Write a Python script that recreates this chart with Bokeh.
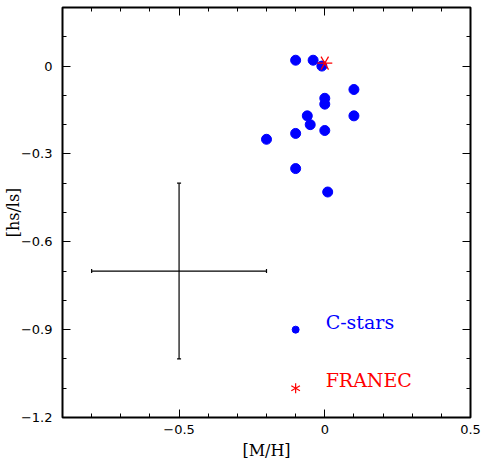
import math
from bokeh.plotting import figure
from bokeh.models import FixedTicker, LinearAxis, CustomJSTickFormatter, Range1d
from bokeh.embed import file_html
from bokeh.resources import INLINE
from bokeh.core.properties import value

# ---- data ----
cstars_mh = [-0.10, -0.04, -0.01, 0.10, 0.00, 0.00, 0.10, -0.06, -0.05, 0.00, -0.10, -0.20, -0.10, 0.01]
cstars_hsls = [0.02, 0.02, 0.00, -0.08, -0.11, -0.13, -0.17, -0.17, -0.20, -0.22, -0.23, -0.25, -0.35, -0.43]

franec_mh = [0.00]
franec_hsls = [0.01]

err_x = [-0.5]
err_y = [-0.7]
err_dx = [0.3]
err_dy = [0.3]

legend_labels = ["C-stars", "FRANEC"]
legend_x = [-0.1, -0.1]
legend_y = [-0.9, -1.1]

x_major = [-0.5, 0.0, 0.5]
x_minor = [-0.9, -0.8, -0.7, -0.6, -0.5, -0.4, -0.3, -0.2, -0.1, 0.0, 0.1, 0.2, 0.3, 0.4, 0.5]
y_major = [-1.2, -0.9, -0.6, -0.3, 0.0]
y_minor = [-1.2, -1.1, -1.0, -0.9, -0.8, -0.7, -0.6, -0.5, -0.4, -0.3, -0.2, -0.1, 0.0, 0.1, 0.2]

x_lim = (-0.9, 0.5)
y_lim = (-1.2, 0.2)

BLUE = "#0000ff"
RED = "#ff0000"

p = figure(
    frame_width=408, frame_height=410,
    x_range=Range1d(*x_lim), y_range=Range1d(*y_lim),
    output_backend="svg", toolbar_location=None,
    min_border_left=55, min_border_right=12, min_border_top=7, min_border_bottom=44,
    x_axis_label="[M/H]", y_axis_label="[hs/ls]",
)
p.grid.visible = False
p.outline_line_color = "black"
p.outline_line_width = 2
p.background_fill_color = "white"
p.border_fill_color = "white"

fmt_code = "if (Math.abs(tick) < 1e-9) { return '0'; } return tick.toFixed(1).replace('-', '\u2212');"


def style_axis(ax, major, minor, show_labels):
    ax.ticker = FixedTicker(ticks=major, minor_ticks=minor)
    ax.axis_line_color = None
    ax.major_tick_in = 8
    ax.major_tick_out = 0
    ax.minor_tick_in = 4
    ax.minor_tick_out = 0
    ax.major_tick_line_color = "black"
    ax.minor_tick_line_color = "black"
    ax.major_tick_line_width = 1
    ax.minor_tick_line_width = 1
    if show_labels:
        ax.formatter = CustomJSTickFormatter(code=fmt_code)
        ax.major_label_text_font = "DejaVu Sans"
        ax.major_label_text_font_size = "13px"
        ax.major_label_text_color = "black"
        ax.axis_label_text_font = "DejaVu Serif"
        ax.axis_label_text_font_size = "16px"
        ax.axis_label_text_font_style = "normal"
        ax.axis_label_text_color = "black"
    else:
        # tick marks only: labels are not drawn
        ax.major_label_text_font_size = "1px"
        ax.major_label_text_color = None
        ax.major_label_standoff = 0
        ax.axis_label = None


style_axis(p.xaxis[0], x_major, x_minor, True)
style_axis(p.yaxis[0], y_major, y_minor, True)
p.xaxis[0].major_label_standoff = 7
p.xaxis[0].axis_label_standoff = 4
p.yaxis[0].major_label_standoff = 10
p.yaxis[0].axis_label_standoff = -5

top_ax = LinearAxis()
right_ax = LinearAxis()
style_axis(top_ax, x_major, x_minor, False)
style_axis(right_ax, y_major, y_minor, False)
p.add_layout(top_ax, "above")
p.add_layout(right_ax, "right")

# ---- error cross ----
ex0 = [x - d for x, d in zip(err_x, err_dx)]
ex1 = [x + d for x, d in zip(err_x, err_dx)]
ey0 = [y - d for y, d in zip(err_y, err_dy)]
ey1 = [y + d for y, d in zip(err_y, err_dy)]
p.segment(x0=ex0, y0=err_y, x1=ex1, y1=err_y, line_color="black", line_width=1.2)
p.segment(x0=err_x, y0=ey0, x1=err_x, y1=ey1, line_color="black", line_width=1.2)
p.scatter(ex0 + ex1, err_y + err_y, marker="dash", angle=math.pi / 2, size=4,
          line_color="black", line_width=1.2)
p.scatter(err_x + err_x, ey0 + ey1, marker="dash", size=4,
          line_color="black", line_width=1.2)

# ---- C-stars ----
p.scatter(cstars_mh, cstars_hsls, marker="circle", size=10,
          fill_color=BLUE, line_color=BLUE)

# ---- FRANEC star (six-armed) ----
for ang in (0.0, math.pi / 3, 2 * math.pi / 3):
    p.scatter(franec_mh, franec_hsls, marker="dash", size=15, angle=ang,
              line_color=RED, line_width=1.2)

# ---- legend ----
p.scatter(legend_x[:1], legend_y[:1], marker="circle", size=7,
          fill_color=BLUE, line_color=BLUE)
for ang in (math.pi / 2, math.pi / 6, 5 * math.pi / 6):
    p.scatter(legend_x[1:], legend_y[1:], marker="dash", size=10, angle=ang,
              line_color=RED, line_width=1.2)

text_x = [lx + 0.103 for lx in legend_x]
p.text(x=text_x, y=legend_y, text=legend_labels, text_color=[BLUE, RED],
       text_font=value("DejaVu Serif"), text_font_size="19px",
       text_baseline="middle", text_align="left", y_offset=-8)

open("out.html", "w").write(file_html(p, INLINE))
